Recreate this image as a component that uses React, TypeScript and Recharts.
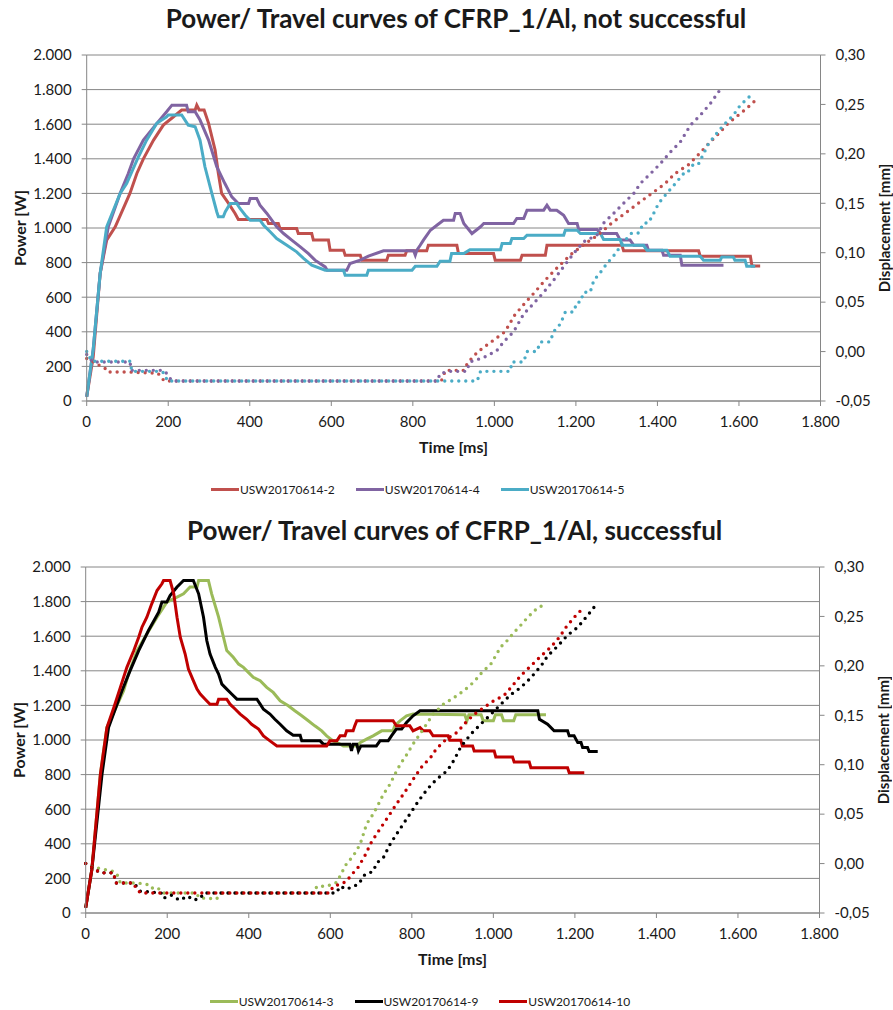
import React from "react";
import { LineChart, Line, XAxis, YAxis, CartesianGrid } from "recharts";

// time axis / tick values
const timeTicks = [0, 200, 400, 600, 800, 1000, 1200, 1400, 1600, 1800];
const powerTicks = [0, 200, 400, 600, 800, 1000, 1200, 1400, 1600, 1800, 2000];
const dispTicks = [-0.05, 0, 0.05, 0.1, 0.15, 0.2, 0.25, 0.3];

// ---- not successful: [time ms, power W] / [time ms, displacement mm]
const power2 = [
  [0, 25], [16, 255], [33, 737], [49, 930], [70, 1007], [106, 1200], [123, 1315], [139, 1400],
  [164, 1508], [188, 1595], [213, 1643], [233, 1682], [266, 1682], [270, 1710], [276, 1682],
  [288, 1682], [299, 1605], [315, 1450], [323, 1315], [331, 1200], [348, 1142], [364, 1084],
  [372, 1049], [442, 1049], [446, 1026], [470, 1026], [474, 997], [515, 997], [519, 968],
  [552, 968], [556, 930], [593, 930], [597, 872], [630, 872], [634, 843], [671, 843], [675, 814],
  [736, 814], [740, 843], [781, 843], [785, 868], [834, 868], [838, 900], [908, 900], [912, 852],
  [998, 852], [1002, 814], [1064, 814], [1068, 843], [1125, 843], [1129, 900], [1313, 900],
  [1317, 868], [1501, 868], [1505, 837], [1628, 837], [1632, 780], [1652, 780],
];
const disp2 = [
  [0, -0.007], [16, -0.0105], [45, -0.017], [50, -0.0206], [98, -0.0206], [175, -0.022],
  [185, -0.027], [190, -0.0297], [870, -0.0297], [880, -0.019], [925, -0.019], [935, -0.011],
  [960, 0.0], [993, 0.01], [1026, 0.02], [1050, 0.037], [1075, 0.049], [1099, 0.06],
  [1124, 0.072], [1157, 0.086], [1190, 0.099], [1222, 0.109], [1255, 0.118], [1288, 0.13],
  [1321, 0.14], [1353, 0.15], [1386, 0.16], [1419, 0.17], [1443, 0.18], [1476, 0.189],
  [1500, 0.199], [1525, 0.21], [1549, 0.22], [1574, 0.231], [1598, 0.239], [1619, 0.246],
  [1640, 0.254],
];
const power4 = [
  [0, 25], [16, 300], [33, 737], [53, 1007], [82, 1200], [102, 1315], [115, 1400], [139, 1508],
  [172, 1605], [196, 1672], [209, 1710], [245, 1710], [249, 1672], [266, 1672], [278, 1624],
  [299, 1508], [319, 1354], [339, 1257], [356, 1180], [372, 1142], [397, 1142], [401, 1171],
  [417, 1171], [425, 1132], [442, 1084], [454, 1045], [466, 1007], [483, 968], [503, 930],
  [524, 891], [544, 852], [560, 814], [585, 775], [590, 756], [638, 756], [646, 795], [671, 814],
  [691, 837], [728, 868], [802, 868], [806, 843], [810, 872], [818, 900], [826, 930], [843, 987],
  [859, 1016], [875, 1045], [900, 1045], [904, 1084], [916, 1084], [925, 1026], [945, 968],
  [966, 1007], [974, 1026], [1047, 1026], [1055, 1055], [1072, 1055], [1080, 1103], [1121, 1103],
  [1129, 1132], [1137, 1103], [1153, 1103], [1170, 1074], [1182, 1026], [1203, 1026], [1207, 991],
  [1252, 991], [1260, 968], [1300, 968], [1309, 930], [1333, 930], [1342, 900], [1374, 900],
  [1378, 872], [1411, 872], [1415, 843], [1456, 843], [1460, 785], [1562, 785],
];
const disp4 = [
  [0, -0.003], [15, -0.0105], [106, -0.0105], [110, -0.019], [188, -0.019], [196, -0.022],
  [209, -0.0297], [860, -0.0297], [867, -0.022], [891, -0.02], [932, -0.02], [940, -0.0105],
  [974, -0.006], [1006, 0.001], [1023, 0.01], [1047, 0.02], [1072, 0.038], [1096, 0.0485],
  [1121, 0.06], [1145, 0.072], [1170, 0.086], [1194, 0.099], [1219, 0.111], [1252, 0.118],
  [1268, 0.13], [1293, 0.14], [1317, 0.15], [1342, 0.16], [1358, 0.17], [1383, 0.18],
  [1407, 0.19], [1432, 0.202], [1456, 0.212], [1481, 0.229], [1505, 0.239], [1530, 0.251],
  [1554, 0.265],
];
const power5 = [
  [0, 25], [16, 300], [33, 737], [49, 1007], [82, 1200], [98, 1257], [127, 1412], [147, 1508],
  [172, 1605], [196, 1643], [200, 1653], [233, 1653], [249, 1595], [266, 1585], [278, 1508],
  [290, 1354], [307, 1200], [319, 1094], [323, 1065], [335, 1065], [340, 1094], [352, 1142],
  [368, 1142], [376, 1113], [389, 1074], [401, 1045], [425, 1045], [434, 1016], [450, 978],
  [466, 939], [491, 900], [515, 862], [532, 824], [552, 785], [585, 756], [630, 756], [634, 727],
  [687, 727], [691, 756], [798, 756], [806, 779], [859, 779], [867, 808], [891, 808], [895, 852],
  [925, 852], [940, 875], [1015, 875], [1019, 910], [1039, 910], [1043, 939], [1072, 939],
  [1080, 958], [1170, 958], [1174, 987], [1203, 987], [1211, 968], [1260, 968], [1268, 934],
  [1309, 934], [1313, 900], [1366, 900], [1374, 872], [1423, 872], [1431, 837], [1505, 837],
  [1513, 814], [1554, 814], [1558, 833], [1586, 833], [1590, 814], [1615, 814], [1619, 779],
  [1640, 779],
];
const disp5 = [
  [0, 0.0], [12, -0.0098], [106, -0.0098], [111, -0.02], [184, -0.02], [190, -0.022],
  [198, -0.0297], [958, -0.0297], [966, -0.02], [1039, -0.02], [1043, -0.0105], [1072, -0.0105],
  [1080, 0.0], [1104, 0.0], [1113, 0.0098], [1137, 0.0098], [1145, 0.02], [1162, 0.028],
  [1174, 0.04], [1194, 0.04], [1203, 0.05], [1211, 0.05], [1219, 0.06], [1235, 0.06],
  [1244, 0.072], [1260, 0.08], [1276, 0.089], [1297, 0.099], [1313, 0.109], [1337, 0.12],
  [1354, 0.12], [1366, 0.13], [1378, 0.13], [1391, 0.14], [1403, 0.15], [1423, 0.16],
  [1444, 0.17], [1464, 0.18], [1472, 0.18], [1489, 0.19], [1501, 0.19], [1513, 0.2],
  [1525, 0.21], [1542, 0.219], [1562, 0.229], [1586, 0.239], [1603, 0.249], [1631, 0.26],
];

// ---- successful
const power3 = [
  [0, 30], [15, 250], [36, 802], [52, 1072], [93, 1285], [105, 1381], [126, 1517], [150, 1613],
  [175, 1710], [191, 1768], [199, 1797], [224, 1826], [240, 1845], [256, 1884], [273, 1884],
  [277, 1922], [301, 1922], [309, 1845], [326, 1710], [338, 1594], [346, 1517], [362, 1478],
  [375, 1439], [387, 1420], [399, 1391], [411, 1362], [428, 1343], [444, 1304], [460, 1275],
  [477, 1227], [497, 1198], [513, 1169], [530, 1140], [546, 1111], [562, 1082], [579, 1053],
  [591, 1024], [607, 995], [624, 976], [632, 966], [665, 966], [673, 985], [689, 1005],
  [705, 1024], [726, 1053], [754, 1053], [758, 1082], [771, 1111], [787, 1140], [803, 1150],
  [930, 1146], [935, 1111], [940, 1146], [970, 1146], [975, 1111], [1000, 1111], [1005, 1146],
  [1020, 1146], [1025, 1111], [1050, 1111], [1055, 1146], [1129, 1146],
];
const disp3 = [
  [0, 0.0], [10, -0.003], [70, -0.008], [77, -0.011], [85, -0.0196], [126, -0.0196],
  [150, -0.021], [160, -0.025], [175, -0.024], [190, -0.0297], [270, -0.0297], [280, -0.035],
  [300, -0.035], [320, -0.036], [335, -0.0297], [560, -0.0297], [567, -0.023], [591, -0.023],
  [616, -0.019], [628, -0.0094], [640, 0.0], [656, 0.0075], [673, 0.0193], [681, 0.0295],
  [689, 0.04], [705, 0.05], [718, 0.06], [730, 0.07], [746, 0.08], [758, 0.09], [771, 0.1],
  [787, 0.11], [803, 0.121], [820, 0.131], [836, 0.141], [852, 0.151], [877, 0.161],
  [904, 0.168], [928, 0.175], [953, 0.184], [969, 0.192], [994, 0.202], [1018, 0.219],
  [1035, 0.226], [1051, 0.234], [1067, 0.241], [1084, 0.249], [1109, 0.259], [1121, 0.261],
];
const power9 = [
  [0, 30], [15, 250], [40, 802], [56, 1072], [89, 1285], [109, 1401], [130, 1517], [154, 1633],
  [179, 1739], [187, 1797], [199, 1797], [207, 1835], [224, 1884], [232, 1903], [240, 1922],
  [264, 1922], [277, 1845], [289, 1710], [297, 1575], [305, 1497], [318, 1420], [326, 1381],
  [334, 1323], [346, 1294], [358, 1266], [371, 1236], [420, 1236], [428, 1207], [436, 1178],
  [452, 1150], [464, 1120], [477, 1091], [493, 1053], [509, 1028], [526, 1028], [530, 995],
  [575, 995], [583, 976], [648, 976], [652, 937], [656, 976], [665, 976], [669, 937], [675, 966],
  [713, 966], [722, 995], [742, 995], [750, 1024], [762, 1063], [775, 1063], [787, 1101],
  [803, 1140], [820, 1169], [1109, 1169], [1113, 1120], [1133, 1091], [1149, 1053], [1182, 1053],
  [1186, 1024], [1198, 1024], [1207, 985], [1215, 985], [1219, 956], [1231, 956], [1235, 933],
  [1256, 933],
];
const disp9 = [
  [0, 0.0], [36, -0.0094], [69, -0.0094], [73, -0.0196], [118, -0.0196], [134, -0.028],
  [185, -0.0297], [191, -0.035], [210, -0.032], [230, -0.037], [250, -0.033], [265, -0.037],
  [281, -0.035], [290, -0.0297], [615, -0.0297], [624, -0.023], [640, -0.026], [656, -0.023],
  [669, -0.021], [685, -0.011], [705, -0.008], [714, 0.0007], [730, 0.0058], [746, 0.019],
  [762, 0.0295], [779, 0.04], [795, 0.05], [811, 0.06], [828, 0.07], [844, 0.078], [860, 0.085],
  [887, 0.094], [904, 0.105], [920, 0.118], [945, 0.131], [969, 0.141], [994, 0.151],
  [1018, 0.161], [1043, 0.171], [1067, 0.178], [1092, 0.188], [1117, 0.2], [1133, 0.21],
  [1158, 0.22], [1182, 0.231], [1207, 0.239], [1231, 0.251], [1256, 0.264],
];
const power10 = [
  [0, 30], [15, 250], [36, 802], [52, 1072], [69, 1188], [85, 1304], [101, 1420], [118, 1517],
  [130, 1594], [138, 1652], [150, 1710], [162, 1787], [175, 1864], [187, 1903], [191, 1922],
  [207, 1922], [216, 1845], [224, 1710], [232, 1594], [244, 1497], [252, 1410], [264, 1343],
  [273, 1294], [281, 1266], [293, 1236], [305, 1207], [322, 1207], [326, 1236], [346, 1236],
  [354, 1207], [367, 1178], [379, 1150], [395, 1120], [407, 1091], [424, 1063], [436, 1024],
  [452, 995], [469, 966], [591, 966], [599, 995], [616, 995], [624, 1024], [636, 1024],
  [640, 1053], [656, 1053], [660, 1082], [665, 1111], [754, 1111], [762, 1082], [795, 1082],
  [803, 1053], [820, 1072], [828, 1053], [844, 1053], [852, 1024], [889, 1024], [893, 999],
  [920, 999], [924, 966], [949, 966], [953, 937], [1002, 937], [1006, 902], [1047, 902],
  [1051, 873], [1088, 873], [1092, 840], [1182, 840], [1186, 811], [1223, 811],
];
const disp10 = [
  [0, 0.0], [36, -0.0094], [69, -0.0094], [73, -0.0196], [118, -0.0196], [122, -0.024],
  [134, -0.0297], [599, -0.0297], [607, -0.023], [624, -0.021], [640, -0.018], [652, -0.011],
  [665, -0.006], [677, 0.0024], [689, 0.011], [697, 0.019], [713, 0.0295], [730, 0.04],
  [746, 0.05], [762, 0.06], [779, 0.07], [795, 0.08], [811, 0.09], [828, 0.1], [844, 0.106],
  [860, 0.116], [885, 0.126], [912, 0.133], [928, 0.141], [953, 0.151], [977, 0.158],
  [1002, 0.165], [1026, 0.17], [1043, 0.178], [1067, 0.19], [1092, 0.2], [1117, 0.21],
  [1141, 0.219], [1162, 0.229], [1178, 0.239], [1198, 0.249], [1219, 0.258],
];

const toRows = (pts: number[][]) => pts.map(([t, v]) => ({ t, v }));

const topSeries = [
  { name: "USW20170614-2", color: "#C0504D", power: power2, disp: disp2 },
  { name: "USW20170614-4", color: "#8064A2", power: power4, disp: disp4 },
  { name: "USW20170614-5", color: "#4BACC6", power: power5, disp: disp5 },
];
const bottomSeries = [
  { name: "USW20170614-3", color: "#9BBB59", power: power3, disp: disp3 },
  { name: "USW20170614-9", color: "#000000", power: power9, disp: disp9 },
  { name: "USW20170614-10", color: "#C00000", power: power10, disp: disp10 },
];

const FONT = "Lato, 'Open Sans', sans-serif";
const AXIS = "#868686";
const TEXT = "#1a1a1a";

const fmtThousands = (v: number) =>
  v >= 1000 ? `${Math.floor(v / 1000)}.${String(v % 1000).padStart(3, "0")}` : String(v);
const fmtDisp = (v: number) => v.toFixed(2).replace(".", ",");

const vLabel = (text: string, dx: number, size: number) => (props: any) => {
  const { viewBox } = props;
  const x = viewBox.x + dx;
  const y = viewBox.y + viewBox.height / 2;
  return (
    <text
      x={x}
      y={y}
      transform={`rotate(-90 ${x} ${y})`}
      textAnchor="middle"
      dominantBaseline="central"
      fontFamily={FONT}
      fontWeight="bold"
      fontSize={size}
      fill={TEXT}
    >
      {text}
    </text>
  );
};

const Panel = ({ top, left, title, series }: any) => (
  <div style={{ position: "absolute", top, left, width: 893, height: 505 }}>
    <div
      style={{
        position: "absolute",
        top: 3,
        left: 0,
        width: 912,
        textAlign: "center",
        fontFamily: FONT,
        fontWeight: "bold",
        fontSize: 26,
        color: TEXT,
        lineHeight: "30px",
      }}
    >
      {title}
    </div>
    <LineChart width={893} height={460} margin={{ top: 55, right: 0, bottom: 0, left: 0 }}>
      <CartesianGrid vertical={false} stroke={AXIS} strokeWidth={1} />
      <XAxis
        type="number"
        dataKey="t"
        domain={[0, 1800]}
        ticks={timeTicks}
        tickFormatter={fmtThousands}
        height={59}
        tickSize={5}
        tickMargin={10}
        stroke={AXIS}
        tick={{ fill: TEXT, fontSize: 15, fontFamily: FONT }}
        label={{
          value: "Time [ms]",
          position: "insideBottom",
          offset: 7,
          style: { fontFamily: FONT, fontWeight: "bold", fontSize: 16, fill: TEXT },
        }}
      />
      <YAxis
        domain={[0, 2000]}
        ticks={powerTicks}
        tickFormatter={fmtThousands}
        width={86.7}
        tickSize={5}
        tickMargin={10}
        stroke={AXIS}
        tick={{ fill: TEXT, fontSize: 15, fontFamily: FONT }}
        label={{ content: vLabel("Power [W]", 19, 16) }}
      />
      <YAxis
        yAxisId="d"
        orientation="right"
        domain={[-0.05, 0.3]}
        ticks={dispTicks}
        tickFormatter={fmtDisp}
        width={72.5}
        tickSize={5}
        tickMargin={10}
        stroke={AXIS}
        tick={{ fill: TEXT, fontSize: 15, fontFamily: FONT, textAnchor: "start" }}
        label={{ content: vLabel("Displacement [mm]", 63, 15) }}
      />
      {series.map((s: any) => (
        <Line
          key={s.name + "p"}
          data={toRows(s.power)}
          dataKey="v"
          type="linear"
          stroke={s.color}
          strokeWidth={3}
          dot={false}
          activeDot={false}
          isAnimationActive={false}
        />
      ))}
      {series.map((s: any) => (
        <Line
          key={s.name + "d"}
          yAxisId="d"
          data={toRows(s.disp)}
          dataKey="v"
          type="linear"
          stroke={s.color}
          strokeWidth={3.4}
          strokeDasharray="0 7"
          strokeLinecap="round"
          dot={false}
          activeDot={false}
          legendType="none"
          isAnimationActive={false}
        />
      ))}
    </LineChart>
    <div
      style={{
        position: "absolute",
        top: 482,
        left: 211,
        display: "flex",
        alignItems: "center",
        gap: 21,
        fontFamily: FONT,
        fontSize: 12,
        color: TEXT,
      }}
    >
      {series.map((s: any) => (
        <div key={s.name} style={{ display: "flex", alignItems: "center" }}>
          <span style={{ display: "inline-block", width: 28, height: 3, background: s.color, marginRight: 1 }} />
          <span>{s.name}</span>
        </div>
      ))}
    </div>
  </div>
);

export default function App() {
  return (
    <div style={{ position: "absolute", left: 0, top: 0, width: 893, height: 1010, background: "#fff" }}>
      <Panel top={0} left={0} title="Power/ Travel curves of CFRP_1/Al, not successful" series={topSeries} />
      <Panel top={511.5} left={-1.3} title="Power/ Travel curves of CFRP_1/Al, successful" series={bottomSeries} />
    </div>
  );
}
